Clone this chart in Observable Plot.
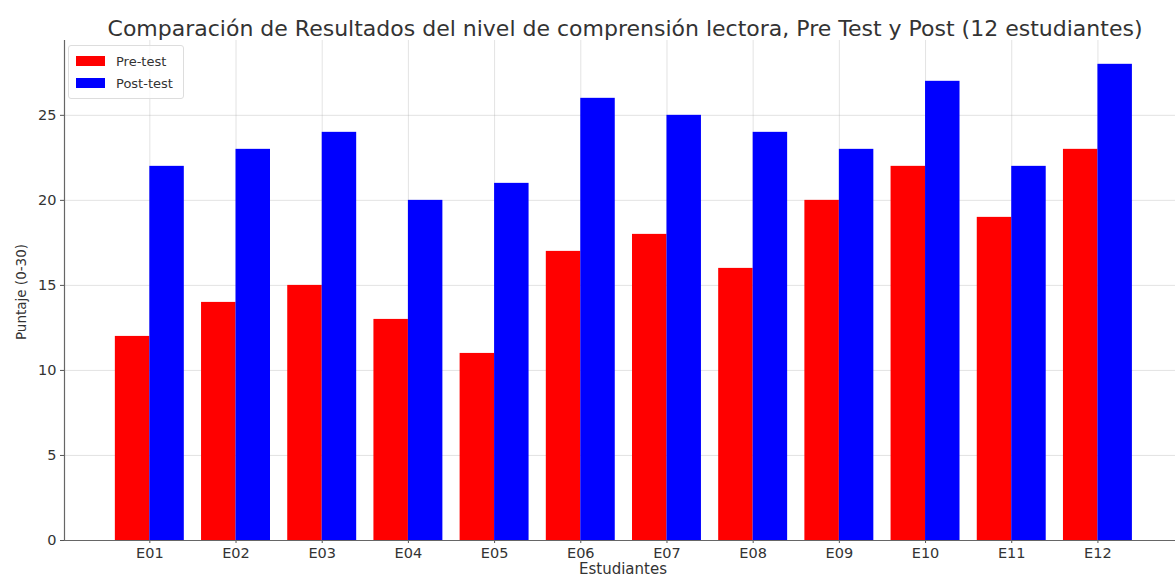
<!DOCTYPE html>
<html>
<head>
<meta charset="utf-8">
<script src="https://cdn.jsdelivr.net/npm/d3@7"></script>
<script src="https://cdn.jsdelivr.net/npm/@observablehq/plot@0.6"></script>
<style>
  body { margin: 0; background: #fff; font-family: "DejaVu Sans", sans-serif; }
  #wrap { position: relative; width: 1175px; height: 580px; overflow: hidden; }
  #title { position: absolute; left: 0; top: 16px; width: 1250px; text-align: center; font-size: 22px; color: #333; white-space: nowrap; }
  #chart { position: absolute; left: 0; top: 40px; }
  #legend { position: absolute; left: 68px; top: 45px; border: 1px solid #ddd; border-radius: 3px; background: rgba(255,255,255,0.8); padding: 4px 10px 4px 7px; font-size: 13px; color: #333; }
  .item { display: flex; align-items: center; height: 22px; }
  .sw { width: 29px; height: 10px; margin-right: 11px; }
  #ylabel { position: absolute; left: 21px; top: 292px; transform: translate(-50%, -50%) rotate(-90deg); font-size: 13.5px; color: #333; white-space: nowrap; }
  #xlabel { position: absolute; left: 623px; top: 569px; transform: translate(-50%, -50%); font-size: 15px; line-height: 17px; color: #333; white-space: nowrap; }
</style>
</head>
<body>
<div id="wrap">
  <div id="title"></div>
  <div id="chart"></div>
  <div id="legend"></div>
  <div id="ylabel"></div>
  <div id="xlabel"></div>
</div>
<script>
const titleText = "Comparación de Resultados del nivel de comprensión lectora, Pre Test y Post (12 estudiantes)";
const students = ["E01","E02","E03","E04","E05","E06","E07","E08","E09","E10","E11","E12"];
const preTest  = [12, 14, 15, 13, 11, 17, 18, 16, 20, 22, 19, 23];
const postTest = [22, 23, 24, 20, 21, 26, 25, 24, 23, 27, 22, 28];
const seriesNames = ["Pre-test", "Post-test"];
const seriesColors = ["#ff0000", "#0000ff"];
const yTicks = [0, 5, 10, 15, 20, 25];
const yLabel = "Puntaje (0-30)";
const xLabel = "Estudiantes";

const rows = students.flatMap((s, i) => [
  {i, k: 0, v: preTest[i]},
  {i, k: 1, v: postTest[i]}
]);
const idx = students.map((s, i) => i);
const barW = 0.4;

const chart = Plot.plot({
  width: 1175,
  height: 540,
  marginLeft: 64,
  marginRight: 0,
  marginTop: 0,
  marginBottom: 40,
  style: {fontFamily: "DejaVu Sans, sans-serif", fontSize: "14px", color: "#333"},
  x: {domain: [-0.99, 11.9], axis: null},
  y: {domain: [0, 29.4], axis: null},
  marks: [
    Plot.gridX(idx, {stroke: "#b0b0b0", strokeOpacity: 0.35}),
    Plot.gridY(yTicks, {stroke: "#b0b0b0", strokeOpacity: 0.35}),
    Plot.rectY(rows, {
      x1: d => d.i - barW + d.k * barW,
      x2: d => d.i + d.k * barW,
      y: "v",
      fill: d => seriesColors[d.k]
    }),
    Plot.axisX(idx, {tickFormat: d => students[d], tickSize: 3, tickPadding: 4, stroke: "#555", fontSize: 14.5, fill: "#333", label: null}),
    Plot.axisY(yTicks, {tickSize: 4, tickPadding: 4, stroke: "#555", fontSize: 14.5, fill: "#333", label: null}),
    Plot.ruleX([-0.99], {stroke: "#666", strokeWidth: 1.2}),
    Plot.ruleY([0], {stroke: "#666", strokeWidth: 1.2})
  ]
});
document.getElementById("chart").appendChild(chart);
document.getElementById("title").textContent = titleText;
document.getElementById("ylabel").textContent = yLabel;
document.getElementById("xlabel").textContent = xLabel;
const lg = document.getElementById("legend");
seriesNames.forEach((n, k) => {
  const it = document.createElement("div");
  it.className = "item";
  const sw = document.createElement("div");
  sw.className = "sw";
  sw.style.background = seriesColors[k];
  const t = document.createElement("span");
  t.textContent = n;
  it.appendChild(sw); it.appendChild(t);
  lg.appendChild(it);
});
</script>
</body>
</html>
